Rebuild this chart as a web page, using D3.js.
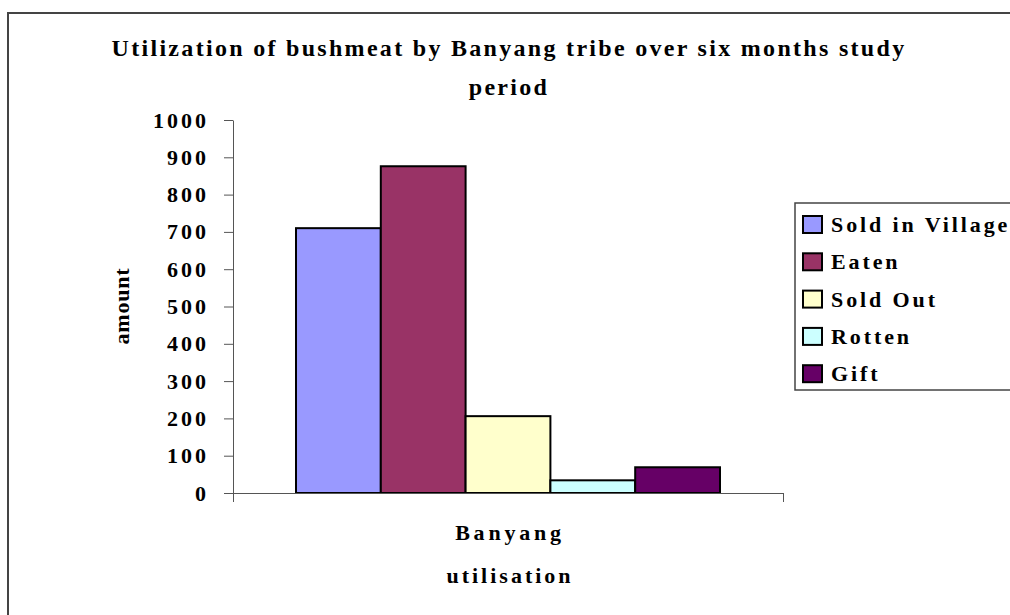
<!DOCTYPE html>
<html>
<head>
<meta charset="utf-8">
<script src="https://cdn.jsdelivr.net/npm/d3@7.9.0/dist/d3.min.js"></script>
<style>
  body { margin: 0; background: #fff; }
  svg text { font-family: "Liberation Serif", "Times New Roman", serif; font-weight: bold; fill: #000; }
</style>
</head>
<body>
<svg id="chart" width="1010" height="615"></svg>
<script>
// data
const group = ['Banyang'];
const series = ['Sold in Village', 'Eaten', 'Sold Out', 'Rotten', 'Gift'];
const values = [710, 876, 206, 34, 69];
const colors = ['#9999FF', '#993366', '#FFFFCC', '#CCFFFF', '#660066'];
const yTicks = [0, 100, 200, 300, 400, 500, 600, 700, 800, 900, 1000];

const svg = d3.select('#chart');

// outer chart frame (right and bottom run off the page)
svg.append('rect')
  .attr('x', 8).attr('y', 13)
  .attr('width', 1020).attr('height', 620)
  .attr('fill', 'none')
  .attr('stroke', '#444').attr('stroke-width', 2);

const plot = { left: 233, right: 783, top: 120, bottom: 493 };

let y = d3.scaleLinear().domain([0, 1000]).range([plot.bottom, plot.top]);
let x0 = d3.scaleBand().domain(group).range([plot.left, plot.right]).paddingOuter(0.1486);
let x1 = d3.scaleBand().domain(series).range([0, x0.bandwidth()]);
let color = d3.scaleOrdinal().domain(series).range(colors);

// title (letter-spacing leaves a trailing gap, so shift by half of it)
const titleLines = ['Utilization of bushmeat by Banyang tribe over six months study', 'period'];
svg.append('g')
  .selectAll('text')
  .data(titleLines)
  .join('text')
  .attr('x', 509).attr('y', (d, i) => 56 + i * 39)
  .attr('text-anchor', 'middle')
  .style('font-size', '24px').style('letter-spacing', '2.3px')
  .text((d) => d);

// bars
svg.append('g')
  .selectAll('rect')
  .data(series.map((s, i) => ({ key: s, value: values[i] })))
  .join('rect')
  .attr('x', (d) => x0('Banyang') + x1(d.key))
  .attr('y', (d) => y(d.value))
  .attr('width', x1.bandwidth())
  .attr('height', (d) => y(0) - y(d.value))
  .attr('fill', (d) => color(d.key))
  .attr('stroke', '#000').attr('stroke-width', 2);

// y axis
let yAxis = svg.append('g')
  .attr('transform', `translate(${plot.left},0)`)
  .call(d3.axisLeft(y).tickValues(yTicks).tickFormat(d3.format('d'))
    .tickSize(9).tickPadding(15).tickSizeOuter(0));
yAxis.select('.domain').attr('stroke', '#555');
yAxis.selectAll('.tick line').attr('stroke', '#555');
yAxis.selectAll('.tick text')
  .style('font-size', '22px').style('letter-spacing', '3px')
  .attr('font-family', null);

// x axis: line with end ticks only
let xEdge = d3.scaleLinear().domain([0, 1]).range([plot.left, plot.right]);
let xAxis = svg.append('g')
  .attr('transform', `translate(0,${plot.bottom})`)
  .call(d3.axisBottom(xEdge).tickValues([0, 1]).tickFormat('').tickSize(9).tickSizeOuter(0));
xAxis.select('.domain').attr('stroke', '#555');
xAxis.selectAll('.tick line').attr('stroke', '#555');

// category + axis titles
let cx = x0('Banyang') + x0.bandwidth() / 2 + 2;
svg.append('text')
  .attr('x', cx).attr('y', 540)
  .attr('text-anchor', 'middle')
  .style('font-size', '22px').style('letter-spacing', '3.8px')
  .text(group[0]);
svg.append('text')
  .attr('x', cx).attr('y', 583)
  .attr('text-anchor', 'middle')
  .style('font-size', '22px').style('letter-spacing', '3px')
  .text('utilisation');
svg.append('text')
  .attr('transform', 'translate(129,306) rotate(-90)')
  .attr('text-anchor', 'middle')
  .style('font-size', '22px').style('letter-spacing', '0.8px')
  .text('amount');

// legend
let legend = svg.append('g').attr('transform', 'translate(795,203)');
legend.append('rect')
  .attr('width', 230).attr('height', 187)
  .attr('fill', '#fff').attr('stroke', '#444').attr('stroke-width', 1.5);
let item = legend.selectAll('.item')
  .data(series)
  .join('g')
  .attr('class', 'item')
  .attr('transform', (d, i) => `translate(8,${21 + i * 37.3})`);
item.append('rect')
  .attr('y', -8).attr('width', 19).attr('height', 17)
  .attr('fill', (d) => color(d))
  .attr('stroke', '#000').attr('stroke-width', 2);
item.append('text')
  .attr('x', 28).attr('y', 8)
  .style('font-size', '22px').style('letter-spacing', '2.9px')
  .text((d) => d);
</script>
</body>
</html>
